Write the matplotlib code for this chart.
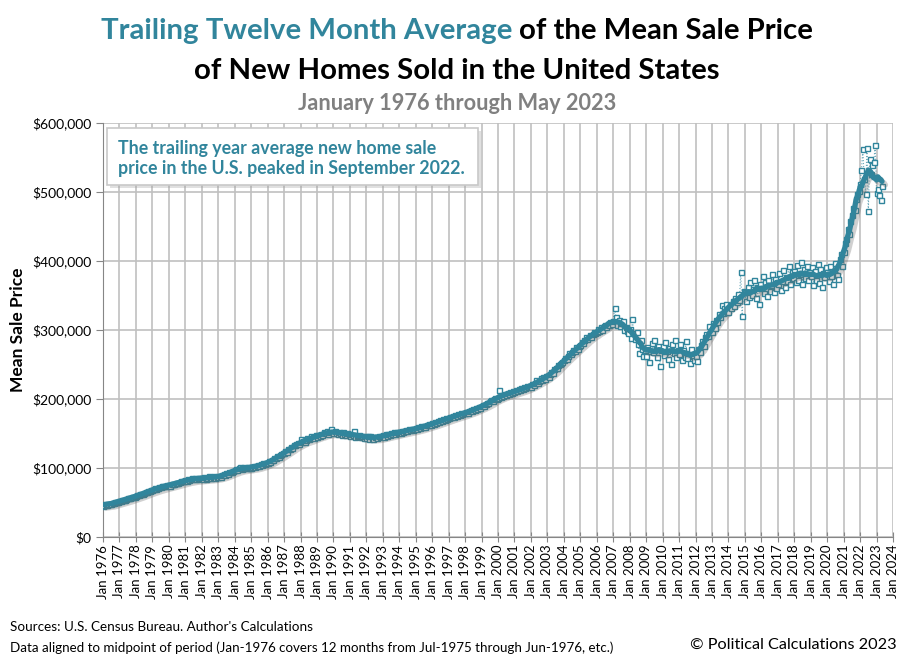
import matplotlib.pyplot as plt
import matplotlib.patheffects as pe
from matplotlib.patches import Rectangle
import numpy as np
import pandas as pd

# Monthly mean sale price of new homes sold, thousands of US$
prices_1970s = [
    45.5, 46.2, 46.8, 47.0, 47.9, 48.3, 48.4, 49.6, 49.8, 50.3, 51.0, 51.4,   # 1976
    52.3, 52.6, 53.8, 54.1, 54.0, 55.2, 55.9, 56.0, 57.1, 57.4, 58.5, 58.6,   # 1977
    59.2, 60.4, 60.6, 61.9, 62.3, 63.0, 64.4, 64.6, 65.8, 66.1, 67.3, 67.5,   # 1978
    68.6, 69.0, 70.3, 70.0, 71.6, 72.4, 71.9, 73.5, 73.2, 74.6, 74.1, 75.3,   # 1979
]
prices_1980s = [
    75.8, 74.6, 76.9, 77.2, 76.4, 78.3, 78.9, 78.4, 80.2, 80.6, 81.1, 80.9,
    82.4, 81.8, 83.6, 82.9, 84.1, 84.8, 83.5, 85.3, 84.6, 85.9, 84.4, 86.2,
    85.1, 83.9, 86.4, 84.7, 85.8, 87.9, 86.2, 85.0, 87.3, 88.5, 86.1, 87.6,
    86.9, 88.7, 87.4, 89.6, 90.8, 89.9, 92.1, 91.4, 93.6, 94.8, 94.1, 96.3,
    97.5, 98.9, 96.8, 99.7, 100.8, 98.6, 100.1, 101.9, 99.4, 100.6, 102.1, 99.8,
    100.3, 101.8, 103.2, 100.9, 102.6, 104.5, 103.1, 105.4, 104.2, 106.7, 105.3, 107.5,
    107.9, 109.6, 108.4, 111.8, 112.3, 113.9, 114.7, 116.8, 116.1, 118.9, 119.6, 121.2,
    122.4, 124.6, 123.1, 127.3, 128.0, 129.9, 129.1, 132.8, 133.4, 134.6, 136.9, 135.2,
    141.8, 137.5, 139.2, 138.1, 140.6, 143.4, 141.7, 142.9, 146.1, 144.3, 143.8, 147.2,
    145.6, 148.3, 146.9, 149.7, 148.2, 151.6, 150.4, 153.8, 149.9, 152.5, 155.9, 152.8,
]
prices_1990s = [
    151.4, 153.9, 150.6, 149.8, 152.7, 150.1, 148.2, 151.5, 149.6, 147.3, 150.8, 148.9,
    146.5, 149.2, 147.8, 152.9, 145.6, 147.1, 146.3, 148.4, 144.7, 146.9, 143.5, 145.8,
    144.2, 146.1, 142.3, 145.7, 143.6, 141.8, 145.2, 144.9, 143.1, 146.8, 144.5, 146.2,
    147.6, 145.3, 148.9, 146.4, 149.8, 147.2, 150.6, 148.9, 151.7, 149.5, 152.3, 150.8,
    152.6, 151.1, 154.3, 152.8, 153.9, 155.7, 153.4, 156.2, 154.8, 157.1, 155.6, 156.9,
    157.4, 156.1, 159.2, 157.8, 160.5, 159.3, 161.4, 160.1, 162.8, 161.6, 164.2, 162.9,
    164.6, 163.2, 166.4, 165.3, 167.9, 166.8, 169.2, 168.1, 170.6, 169.5, 172.3, 171.2,
    172.1, 174.2, 173.3, 175.6, 174.4, 176.8, 175.5, 178.1, 177.2, 179.6, 178.0, 180.3,
    179.5, 181.4, 180.2, 182.9, 183.8, 182.7, 185.6, 184.4, 187.3, 186.1, 188.9, 187.6,
    189.8, 191.6, 190.4, 193.2, 194.9, 193.5, 196.8, 197.9, 196.4, 199.7, 201.3, 200.1,
]
prices_2000s = [
    201.6, 212.4, 203.1, 205.8, 204.2, 207.3, 206.1, 208.9, 207.4, 210.2, 208.6, 211.5,
    209.5, 212.8, 211.2, 214.6, 212.9, 215.8, 214.1, 216.7, 215.3, 218.4, 216.8, 219.2,
    217.9, 221.4, 219.8, 223.6, 228.1, 222.9, 226.4, 229.8, 228.2, 231.5, 229.6, 233.1,
    233.4, 231.2, 236.9, 239.7, 238.1, 242.8, 245.3, 244.6, 248.9, 250.2, 252.7, 254.1,
    256.3, 259.8, 257.4, 262.9, 266.1, 264.7, 268.2, 270.9, 269.6, 274.8, 272.1, 276.3,
    278.4, 282.6, 280.9, 285.3, 289.7, 287.1, 290.2, 292.6, 289.4, 294.8, 297.3, 295.6,
    296.9, 301.4, 299.2, 303.8, 300.7, 305.6, 307.9, 304.3, 309.2, 306.8, 311.5, 308.4,
    313.6, 331.2, 318.3, 307.4, 314.8, 305.1, 309.7, 312.5, 300.6, 303.9, 298.3, 296.1,
    301.2, 288.5, 315.8, 295.4, 286.9, 297.3, 279.6, 266.8, 285.1, 272.4, 262.7, 270.5,
    262.3, 275.9, 253.6, 270.2, 281.8, 268.4, 285.1, 272.7, 261.2, 277.5, 248.3, 270.9,
]
prices_2010s = [
    276.4, 263.1, 282.7, 268.9, 258.4, 274.6, 251.2, 279.8, 266.3, 285.9, 260.7, 271.5,
    265.2, 279.4, 255.8, 270.6, 261.3, 284.2, 258.9, 266.7, 252.4, 273.1, 262.8, 256.5,
    262.1, 255.3, 271.8, 268.4, 278.9, 283.6, 276.2, 289.7, 294.3, 291.5, 305.8, 299.2,
    296.4, 309.8, 302.5, 315.2, 311.7, 322.9, 318.4, 336.1, 324.8, 331.5, 338.2, 326.7,
    325.5, 336.2, 331.8, 342.6, 335.4, 346.7, 340.9, 352.3, 344.1, 384.6, 319.8, 356.5,
    355.2, 341.8, 362.4, 347.9, 369.5, 351.3, 358.7, 372.6, 346.2, 361.8, 338.4, 366.1,
    361.4, 377.8, 353.2, 368.9, 348.6, 372.4, 357.1, 365.8, 381.3, 354.7, 374.2, 360.5,
    366.4, 382.2, 357.8, 370.5, 387.1, 362.3, 376.9, 371.2, 392.6, 366.8, 383.4, 375.1,
    385.3, 369.8, 394.1, 372.6, 381.2, 398.7, 366.4, 387.9, 375.3, 392.6, 371.8, 383.4,
    378.2, 391.5, 365.7, 384.9, 372.3, 395.1, 368.6, 388.4, 362.8, 382.1, 376.5, 390.7,
]
prices_2020s = [
    383.9, 371.2, 393.4, 377.8, 366.2, 385.5, 396.8, 379.4, 374.1, 402.6, 409.8, 392.3,
    412.4, 425.8, 431.2, 446.9, 439.7, 458.3, 466.1, 476.8, 473.5, 489.2, 497.6, 501.9,
    512.3, 531.6, 562.4, 518.9, 497.3, 564.2, 471.8, 548.1, 525.6, 539.4, 543.7, 568.5,
    498.2, 504.6, 495.1, 487.9, 509.3,                                          # 2023 Jan-May
]

first_year = 1976
year_ticks = list(range(1976, 2025))
y_ticks = [0, 100000, 200000, 300000, 400000, 500000, 600000]

TEAL = '#31859c'

prices = pd.Series(
    np.array(prices_1970s + prices_1980s + prices_1990s + prices_2000s + prices_2010s + prices_2020s) * 1000,
    index=pd.date_range(f'{first_year}-01-01', periods=569, freq='MS'),
)
x = prices.index.year + (prices.index.month - 1) / 12
# trailing twelve month average, aligned to the midpoint of the period
ttm = prices.rolling(12, center=True, min_periods=1).mean()

plt.rcParams['font.family'] = ['Lato', 'DejaVu Sans']
fig = plt.figure(figsize=(9.10, 6.61), dpi=100)
ax = fig.add_axes([103 / 910, 1 - 537 / 661, 790 / 910, 414 / 661])

ax.plot(x, prices.values, color=TEAL, lw=0.8, ls=':', alpha=0.7, zorder=2)
ax.plot(x, prices.values, ls='none', marker='s', ms=3.6, mfc='white', mec=TEAL, mew=1.0, zorder=3)
ax.plot(x, ttm.values, color=TEAL, lw=3.8, solid_capstyle='round', zorder=4,
        path_effects=[pe.SimpleLineShadow(offset=(2.5, -2.5), shadow_color='#666666', alpha=0.3),
                      pe.Normal()])

ax.set_xlim(1976, 2024)
ax.set_ylim(0, 600000)
ax.set_xticks(year_ticks)
ax.set_xticklabels([f'Jan {y}' for y in year_ticks], rotation=90, fontsize=9.5)
ax.set_yticks(y_ticks)
ax.set_yticklabels([f'${v:,.0f}' for v in y_ticks], fontsize=10)
ax.grid(True, color='#c0c0c0', lw=1.2)
ax.set_axisbelow(True)
for s in ['top', 'right']:
    ax.spines[s].set_visible(False)
for s in ['left', 'bottom']:
    ax.spines[s].set_color('#868686')
ax.tick_params(axis='x', direction='inout', length=7, color='#868686', pad=2)
ax.tick_params(axis='y', direction='out', length=5, color='#868686')
ax.set_ylabel('Mean Sale Price', fontsize=12.5, fontweight='bold', labelpad=4)

# two-coloured first title line
cx = 457 / 910
fig.canvas.draw()
r = fig.canvas.get_renderer()
t1 = fig.text(0, 1 - 31 / 661, 'Trailing Twelve Month Average ', color=TEAL, fontsize=21.2,
              fontweight='bold', va='center')
t2 = fig.text(0, 1 - 31 / 661, 'of the Mean Sale Price', color='black', fontsize=21.2,
              fontweight='bold', va='center')
w1 = t1.get_window_extent(r).width / 910
w2 = t2.get_window_extent(r).width / 910
x0 = cx - (w1 + w2) / 2
t1.set_x(x0)
t2.set_x(x0 + w1)
fig.text(cx, 1 - 71 / 661, 'of New Homes Sold in the United States', fontsize=21.2,
         fontweight='bold', ha='center', va='center')
fig.text(cx, 1 - 103 / 661, 'January 1976 through May 2023', fontsize=15.7,
         fontweight='bold', color='#808080', ha='center', va='center')

# annotation box
box = Rectangle((107 / 910, 1 - 185 / 661), 371 / 910, 57 / 661, transform=fig.transFigure,
                facecolor='white', edgecolor='#c8c8c8', lw=1.2, zorder=5,
                path_effects=[pe.withSimplePatchShadow(offset=(2, -2), shadow_rgbFace='#999999', alpha=0.3)])
fig.patches.append(box)
fig.text(118 / 910, 1 - 158.5 / 661,
         'The trailing year average new home sale\nprice in the U.S. peaked in September 2022.',
         color=TEAL, fontsize=12.8, fontweight='bold', va='center', ha='left', linespacing=1.25,
         zorder=6)

fig.text(10 / 910, 1 - 627 / 661, "Sources: U.S. Census Bureau. Author's Calculations",
         fontsize=9.7, va='center')
fig.text(10 / 910, 1 - 648 / 661,
         'Data aligned to midpoint of period (Jan-1976 covers 12 months from Jul-1975 through Jun-1976, etc.)',
         fontsize=9.6, va='center')
fig.text(897 / 910, 1 - 645 / 661, '\u00a9 Political Calculations 2023', fontsize=11.7,
         ha='right', va='center')

fig.savefig('out.png', dpi=100)
